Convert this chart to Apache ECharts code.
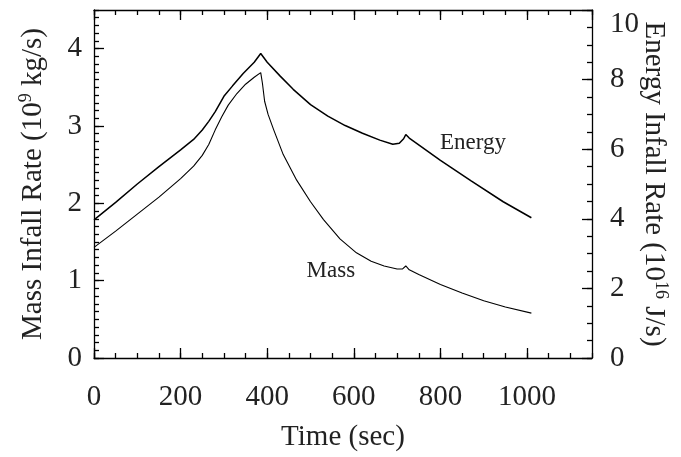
<!DOCTYPE html>
<html lang="en" style="background: #FFFFFF;height: 100%">
<head>
    <meta charset="utf-8" />
    <title>Infall rate</title>
    <script type="text/javascript" src="https://cdn.jsdelivr.net/npm/echarts@6/dist/echarts.min.js"></script>
</head>
<body style="margin: 0;height: 100%">
    <div id="chart" style="width:681px;height:457px"></div>
    <script>
    // mass infall rate, 10^9 kg/s (left axis)
    let massTime = [0, 50, 100, 150, 200, 230, 250, 265, 280, 295, 310, 330, 350, 370, 385, 389, 394, 402, 415, 437, 468, 500, 530, 568, 606, 640, 670, 700, 712, 720, 728, 750, 800, 850, 900, 950, 1010]
    let massRate = [1.43, 1.64, 1.86, 2.08, 2.32, 2.48, 2.62, 2.76, 2.95, 3.12, 3.27, 3.42, 3.54, 3.63, 3.69, 3.55, 3.32, 3.15, 2.95, 2.63, 2.30, 2.02, 1.79, 1.54, 1.36, 1.25, 1.19, 1.15, 1.15, 1.19, 1.14, 1.08, 0.95, 0.84, 0.74, 0.66, 0.58]
    // energy infall rate, 10^16 J/s (right axis)
    let energyTime = [0, 50, 100, 150, 200, 230, 250, 265, 280, 300, 320, 345, 370, 385, 400, 430, 460, 500, 540, 580, 620, 660, 690, 705, 715, 720, 728, 745, 800, 870, 945, 1010]
    let energyRate = [3.97, 4.47, 5.00, 5.50, 5.98, 6.28, 6.55, 6.80, 7.08, 7.52, 7.82, 8.18, 8.50, 8.75, 8.50, 8.10, 7.72, 7.28, 6.95, 6.68, 6.46, 6.26, 6.14, 6.17, 6.30, 6.42, 6.32, 6.17, 5.68, 5.10, 4.49, 4.03]
    // curve labels [time, value]
    let energyNote = [875, 6.18]
    let massNote = [547, 1.12]

    let font = 'Liberation Serif'
    let ink = '#000'
    let textInk = '#222'
    let lineStyle = { color: ink, width: 1.3 }

    function makeAxis(pos, min, max, interval, major, extra) {
        return Object.assign({
            type: 'value',
            position: pos,
            min: min,
            max: max,
            interval: interval,
            axisLine: { show: major, onZero: false, lineStyle: lineStyle },
            axisTick: { show: true, inside: true, length: major ? 10 : 5, lineStyle: lineStyle },
            axisLabel: { show: false },
            splitLine: { show: false }
        }, extra || {})
    }

    let labelStyle = { fontFamily: font, fontSize: 29, color: textInk, formatter: v => String(v) }
    let nameStyle = {
        fontFamily: font, fontSize: 29, color: textInk,
        rich: { sup: { fontFamily: font, fontSize: 18, color: textInk, verticalAlign: 'top', padding: [0, 0, 14, 0] } }
    }

    let chart = echarts.init(document.getElementById('chart'))
    chart.setOption({
        animation: false,
        grid: { left: 94, right: 89, top: 10, bottom: 99, containLabel: false, outerBoundsMode: 'none' },
        xAxis: [
            makeAxis('bottom', 0, 1150, 200, true, {
                axisLabel: Object.assign({ show: true, margin: 25, showMaxLabel: false }, labelStyle),
                name: 'Time (sec)', nameLocation: 'middle', nameGap: 65, nameMoveOverlap: false, nameTextStyle: nameStyle
            }),
            makeAxis('bottom', 0, 1150, 50, false),
            makeAxis('top', 0, 1150, 200, true),
            makeAxis('top', 0, 1150, 50, false)
        ],
        yAxis: [
            makeAxis('left', 0, 4.5, 1, true, {
                axisLabel: Object.assign({ show: true, margin: 12, showMaxLabel: false }, labelStyle),
                name: 'Mass Infall Rate (10{sup|9} kg/s)', nameLocation: 'middle', nameGap: 45, nameRotate: 90,
                nameMoveOverlap: false, nameTextStyle: nameStyle
            }),
            makeAxis('left', 0, 4.5, 0.1, false),
            makeAxis('right', 0, 10, 2, true, {
                axisLabel: Object.assign({ show: true, margin: 18, showMaxLabel: true, verticalAlignMaxLabel: 'top' }, labelStyle),
                name: 'Energy Infall Rate (10{sup|16} J/s)', nameLocation: 'middle', nameGap: 46, nameRotate: -90,
                nameMoveOverlap: false, nameTextStyle: nameStyle
            }),
            makeAxis('right', 0, 10, 0.5, false)
        ],
        series: [
            {
                name: 'Mass',
                type: 'line',
                xAxisIndex: 0,
                yAxisIndex: 0,
                showSymbol: false,
                data: massTime.map((t, i) => [t, massRate[i]]),
                lineStyle: { color: ink, width: 1.1 },
                markPoint: {
                    symbol: 'circle', symbolSize: 1, itemStyle: { color: 'transparent' },
                    label: { show: true, position: 'inside', formatter: 'Mass', fontFamily: font, fontSize: 23, color: textInk },
                    data: [{ coord: massNote }]
                }
            },
            {
                name: 'Energy',
                type: 'line',
                xAxisIndex: 0,
                yAxisIndex: 2,
                showSymbol: false,
                data: energyTime.map((t, i) => [t, energyRate[i]]),
                lineStyle: { color: ink, width: 1.5 },
                markPoint: {
                    symbol: 'circle', symbolSize: 1, itemStyle: { color: 'transparent' },
                    label: { show: true, position: 'inside', formatter: 'Energy', fontFamily: font, fontSize: 23, color: textInk },
                    data: [{ coord: energyNote }]
                }
            }
        ]
    })
    </script>
</body>
</html>
